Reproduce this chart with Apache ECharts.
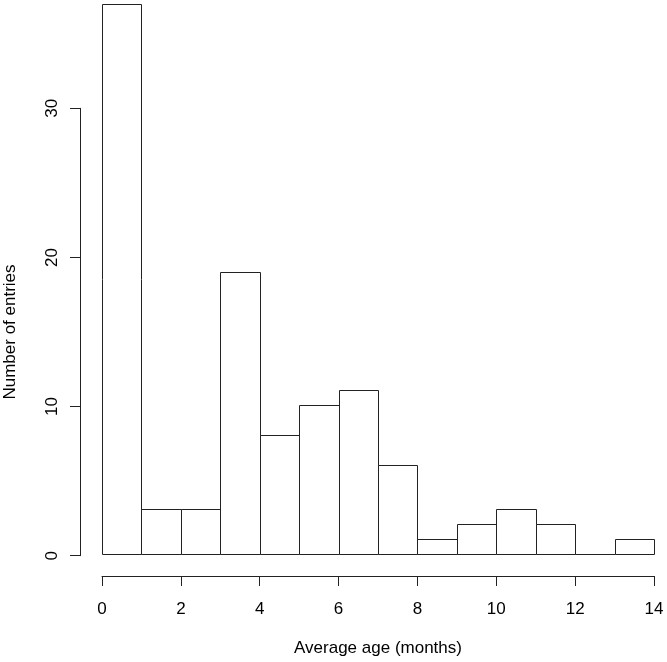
<!DOCTYPE html>
<html><head><meta charset="utf-8">
<script src="https://cdn.jsdelivr.net/npm/echarts@6/dist/echarts.min.js"></script>
<style>html,body{margin:0;padding:0;background:#fff}#c{width:667px;height:662px}</style>
</head><body><div id="c"></div>
<script>
const binStarts = [0,1,2,3,4,5,6,7,8,9,10,11,12,13];
const counts = [37,3,3,19,8,10,11,6,1,2,3,2,0,1];
const xTicks = [0,2,4,6,8,10,12,14];
const yTicks = [0,10,20,30];
const xTitle = 'Average age (months)';
const yTitle = 'Number of entries';

const FONT = 'Liberation Sans, Arial, Helvetica, sans-serif';
const chart = echarts.init(document.getElementById('c'), null, {renderer:'canvas'});
const data = binStarts.map((s,i)=>[s, counts[i]]);
chart.setOption({
  animation:false,
  backgroundColor:'#fff',
  grid:[
    {left:102, right:13, top:4, bottom:106.3},
    {left:80, width:1, top:108.3, bottom:106.3}
  ],
  xAxis:[
    {gridIndex:0, type:'value', min:0, max:14, interval:2, offset:22,
     axisLine:{show:true, onZero:false, lineStyle:{color:'#222', width:1}},
     axisTick:{show:true, length:10, lineStyle:{color:'#222'}},
     axisLabel:{fontFamily:FONT, fontSize:17, color:'#000', margin:25,
       formatter:v=>xTicks.includes(v)?String(v):''},
     splitLine:{show:false},
     name:xTitle, nameLocation:'middle', nameGap:64,
     nameTextStyle:{fontFamily:FONT, fontSize:17, color:'#000'}},
    {gridIndex:1, type:'value', show:false, min:0, max:1}
  ],
  yAxis:[
    {gridIndex:0, type:'value', min:0, max:37, show:false},
    {gridIndex:1, type:'value', min:0, max:30, interval:10,
     axisLine:{show:true, onZero:false, lineStyle:{color:'#222', width:1}},
     axisTick:{show:true, length:10, lineStyle:{color:'#222'}},
     axisLabel:{fontFamily:FONT, fontSize:17, color:'#000', rotate:90, margin:19,
       formatter:v=>yTicks.includes(v)?String(v):''},
     splitLine:{show:false},
     name:yTitle, nameLocation:'middle', nameGap:61,
     nameTextStyle:{fontFamily:FONT, fontSize:17, color:'#000'}}
  ],
  series:[{
    type:'custom', xAxisIndex:0, yAxisIndex:0, data:data,
    renderItem:(params, api)=>{
      const s = api.value(0), v = api.value(1);
      const p0 = api.coord([s, 0]);
      const p1 = api.coord([s+1, v]);
      return {type:'rect',
        shape:{x:Math.round(p0[0])+0.5, y:Math.round(p1[1])+0.5, width:Math.round(p1[0])-Math.round(p0[0]), height:Math.round(p0[1])-Math.round(p1[1])},
        style:{fill:'#fff', stroke:'#222', lineWidth:1}};
    }
  }]
});
</script></body></html>
